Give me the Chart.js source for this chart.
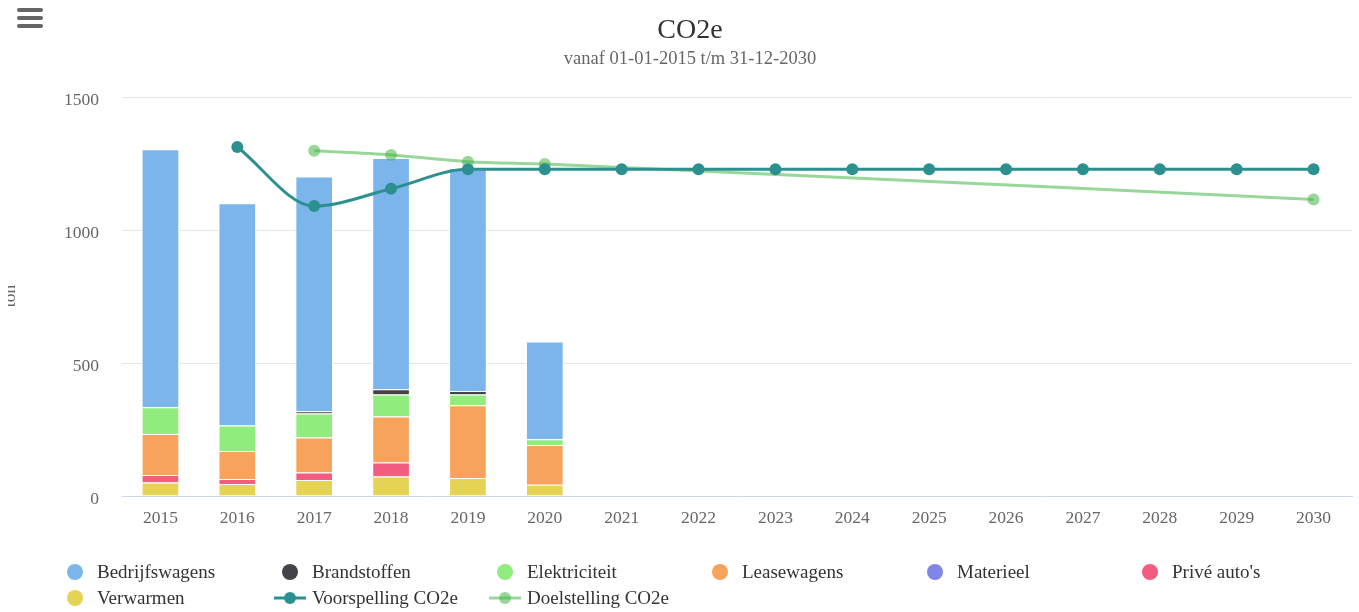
<!DOCTYPE html>
<html>
<head>
<meta charset="utf-8">
<script src="https://cdn.jsdelivr.net/npm/chart.js@4/dist/chart.umd.min.js"></script>
<style>
  html, body { margin: 0; padding: 0; background: #ffffff; }
  #wrap { width: 1359px; height: 612px; position: relative; }
</style>
</head>
<body>
<div id="wrap"><canvas id="c" width="1359" height="612"></canvas></div>
<script>
// ---- data ----
const years = ['2015','2016','2017','2018','2019','2020','2021','2022','2023','2024','2025','2026','2027','2028','2029','2030'];
const bedrijfswagens = [970, 836, 882, 870, 838, 368, null, null, null, null, null, null, null, null, null, null];
const brandstoffen   = [0, 0, 9, 19, 13, 0, null, null, null, null, null, null, null, null, null, null];
const elektriciteit  = [101, 96, 90, 83, 41, 21, null, null, null, null, null, null, null, null, null, null];
const leasewagens    = [154, 105, 132, 173, 273, 150, null, null, null, null, null, null, null, null, null, null];
const materieel      = [0, 0, 0, 0, 0, 0, null, null, null, null, null, null, null, null, null, null];
const priveAutos     = [28, 19, 28, 53, 0, 0, null, null, null, null, null, null, null, null, null, null];
const verwarmen      = [51, 45, 60, 73, 68, 42, null, null, null, null, null, null, null, null, null, null];
const voorspelling   = [null, 1312, 1090, 1155, 1228, 1228, 1228, 1228, 1228, 1228, 1228, 1228, 1228, 1228, 1228, 1228];
const doelstelling   = [null, null, 1298, 1282, 1257, 1248, null, null, null, null, null, null, null, null, null, 1115];
const yTicks = [0, 500, 1000, 1500];
const titleText = 'CO2e';
const subtitleText = 'vanaf 01-01-2015 t/m 31-12-2030';
const yTitleText = 'ton';

const SERIF = '"Liberation Serif", "Times New Roman", serif';
const C = {
  bedrijfswagens: '#7cb5ec', brandstoffen: '#434348', elektriciteit: '#90ed7d',
  leasewagens: '#f7a35c', materieel: '#8085e9', prive: '#f15c80', verwarmen: '#e4d354',
  voorspelling: '#2b908f', doelstelling: 'rgba(70,180,70,0.55)'
};

function bar(label, data, color) {
  return { type: 'bar', label, data, backgroundColor: color, borderColor: '#ffffff',
           borderWidth: 1, stack: 'bars', barPercentage: 0.49, categoryPercentage: 1, _legend: 'circle' };
}

// bottom-to-top stacking order
const datasets = [
  bar('Verwarmen', verwarmen, C.verwarmen),
  bar("Privé auto's", priveAutos, C.prive),
  bar('Materieel', materieel, C.materieel),
  bar('Leasewagens', leasewagens, C.leasewagens),
  bar('Elektriciteit', elektriciteit, C.elektriciteit),
  bar('Brandstoffen', brandstoffen, C.brandstoffen),
  bar('Bedrijfswagens', bedrijfswagens, C.bedrijfswagens),
  { type: 'line', label: 'Voorspelling CO2e', data: voorspelling, borderColor: C.voorspelling,
    backgroundColor: C.voorspelling, borderWidth: 3, pointRadius: 6, pointHoverRadius: 6,
    pointBorderWidth: 0, cubicInterpolationMode: 'monotone', spanGaps: true, stack: 'v', order: -2, _legend: 'line' },
  { type: 'line', label: 'Doelstelling CO2e', data: doelstelling, borderColor: C.doelstelling,
    backgroundColor: C.doelstelling, borderWidth: 3, pointRadius: 6, pointHoverRadius: 6,
    pointBorderWidth: 0, cubicInterpolationMode: 'monotone', spanGaps: true, stack: 'd', order: -1, _legend: 'line' }
];

const legendOrder = ['Bedrijfswagens', 'Brandstoffen', 'Elektriciteit', 'Leasewagens', 'Materieel', "Privé auto's",
                     'Verwarmen', 'Voorspelling CO2e', 'Doelstelling CO2e'];

const decorPlugin = {
  id: 'decor',
  afterDraw(chart) {
    const ctx = chart.ctx;
    ctx.save();
    // hamburger menu icon
    ctx.strokeStyle = '#666666';
    ctx.lineWidth = 4;
    ctx.lineCap = 'round';
    [10, 18, 26].forEach(y => {
      ctx.beginPath(); ctx.moveTo(19, y); ctx.lineTo(41, y); ctx.stroke();
    });
    // title + subtitle
    ctx.textAlign = 'center';
    ctx.textBaseline = 'alphabetic';
    ctx.fillStyle = '#333333';
    ctx.font = '28px ' + SERIF;
    ctx.fillText(titleText, 690, 38);
    ctx.fillStyle = '#666666';
    ctx.font = '18.5px ' + SERIF;
    ctx.fillText(subtitleText, 690, 64);
    // y axis title (partly clipped at the left edge)
    ctx.save();
    ctx.beginPath(); ctx.rect(8, 0, 40, 612); ctx.clip();
    ctx.translate(15, 296);
    ctx.rotate(-Math.PI / 2);
    ctx.fillStyle = '#666666';
    ctx.font = '17.5px ' + SERIF;
    ctx.textAlign = 'center';
    ctx.fillText(yTitleText, 0, 0);
    ctx.restore();
    // legend
    ctx.font = '19px ' + SERIF;
    ctx.textAlign = 'left';
    ctx.textBaseline = 'middle';
    legendOrder.forEach((name, i) => {
      const ds = chart.data.datasets.find(d => d.label === name);
      const col = i % 6, row = Math.floor(i / 6);
      const cx = 75 + col * 215;
      const cy = 572 + row * 26;
      if (ds._legend === 'circle') {
        ctx.fillStyle = ds.backgroundColor;
        ctx.beginPath(); ctx.arc(cx, cy, 8, 0, Math.PI * 2); ctx.fill();
      } else {
        ctx.strokeStyle = ds.borderColor;
        ctx.lineWidth = 3;
        ctx.lineCap = 'butt';
        ctx.beginPath(); ctx.moveTo(cx - 16, cy); ctx.lineTo(cx + 16, cy); ctx.stroke();
        ctx.fillStyle = ds.backgroundColor;
        ctx.beginPath(); ctx.arc(cx, cy, 6, 0, Math.PI * 2); ctx.fill();
      }
      ctx.fillStyle = '#333333';
      ctx.fillText(name, cx + 22, cy + 1);
    });
    ctx.restore();
  }
};

new Chart(document.getElementById('c'), {
  data: { labels: years, datasets },
  options: {
    responsive: false,
    devicePixelRatio: 1,
    animation: false,
    layout: { padding: { top: 97, right: 7, left: 0, bottom: 0 } },
    plugins: { legend: { display: false }, title: { display: false }, tooltip: { enabled: false } },
    scales: {
      x: {
        stacked: true,
        grid: { display: false, drawTicks: false },
        border: { display: true, color: '#ccd6eb', width: 1 },
        ticks: { color: '#666666', font: { family: SERIF, size: 17.5 }, padding: 12, maxRotation: 0, autoSkip: false },
        afterFit(s) { s.height = 116; }
      },
      y: {
        stacked: true,
        min: 0, max: 1500,
        afterBuildTicks(s) { s.ticks = yTicks.map(v => ({ value: v })); },
        grid: { color: '#e6e6e6', lineWidth: 1, drawTicks: false },
        border: { display: false },
        ticks: { color: '#666666', font: { family: SERIF, size: 17.5 }, padding: 23, labelOffset: 3,
                 callback: v => String(v) },
        afterFit(s) { s.width = 122; }
      }
    }
  },
  plugins: [decorPlugin]
});
</script>
</body>
</html>
